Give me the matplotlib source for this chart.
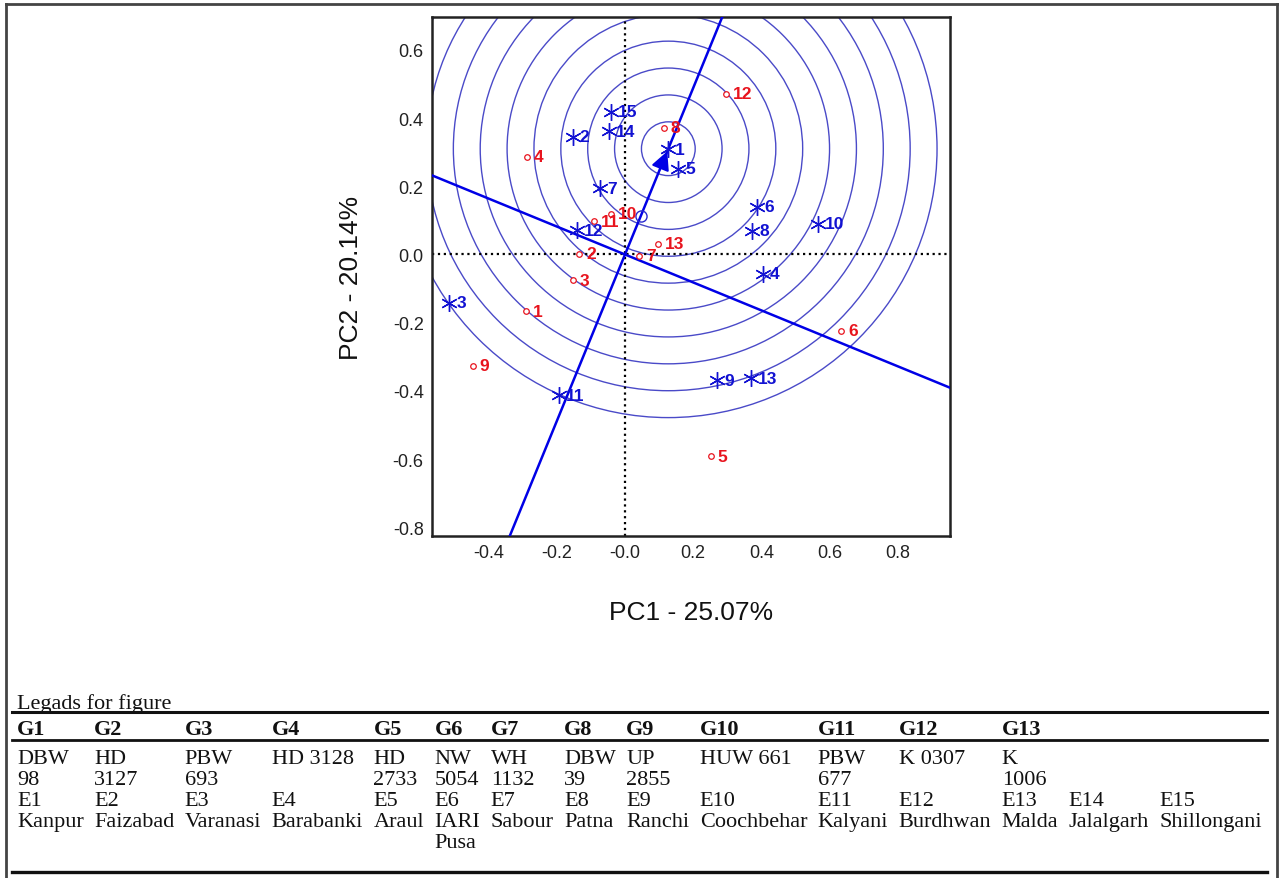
import numpy as np
import matplotlib.pyplot as plt
from matplotlib.lines import Line2D

# genotype scores (red circles)
gen_labels = [str(i) for i in range(1, 14)]
gen_pc1 = [-0.291, -0.134, -0.153, -0.288, 0.251, 0.634, 0.041, 0.114, -0.446, -0.040, -0.090, 0.295, 0.096]
gen_pc2 = [-0.167, 0.002, -0.076, 0.287, -0.591, -0.224, -0.003, 0.371, -0.326, 0.120, 0.098, 0.471, 0.031]

# environment scores (blue stars)
env_labels = [str(i) for i in range(1, 16)]
env_pc1 = [0.126, -0.153, -0.515, 0.405, 0.156, 0.387, -0.073, 0.373, 0.271, 0.566, -0.193, -0.140, 0.369, -0.046, -0.042]
env_pc2 = [0.309, 0.345, -0.142, -0.057, 0.252, 0.140, 0.194, 0.069, -0.368, 0.090, -0.412, 0.071, -0.363, 0.361, 0.418]

# average environment and ideal environment (centre of the rings)
avg_env = (0.047, 0.114)
ideal_env = (0.127, 0.310)
ring_step = 0.0788
n_rings = 10

xtick_vals = [-0.4, -0.2, 0.0, 0.2, 0.4, 0.6, 0.8]
xtick_text = ['-0.4', '-0.2', '-0.0', '0.2', '0.4', '0.6', '0.8']
ytick_vals = [-0.8, -0.6, -0.4, -0.2, 0.0, 0.2, 0.4, 0.6]
ytick_text = ['-0.8', '-0.6', '-0.4', '-0.2', '0.0', '0.2', '0.4', '0.6']

# legend table
tbl_title = 'Legads for figure'
tbl_head = ['G1', 'G2', 'G3', 'G4', 'G5', 'G6', 'G7', 'G8', 'G9', 'G10', 'G11', 'G12', 'G13']
tbl_var1 = ['DBW', 'HD', 'PBW', 'HD 3128', 'HD', 'NW', 'WH', 'DBW', 'UP', 'HUW 661', 'PBW', 'K 0307', 'K']
tbl_var2 = ['98', '3127', '693', '', '2733', '5054', '1132', '39', '2855', '', '677', '', '1006']
tbl_env = ['E%d' % i for i in range(1, 16)]
tbl_loc1 = ['Kanpur', 'Faizabad', 'Varanasi', 'Barabanki', 'Araul', 'IARI', 'Sabour', 'Patna', 'Ranchi',
            'Coochbehar', 'Kalyani', 'Burdhwan', 'Malda', 'Jalalgarh', 'Shillongani']
tbl_loc2 = ['', '', '', '', '', 'Pusa']

W, H = 1281, 879
BLUE = '#1212d2'
RED = '#e8141e'
SANS = 'Liberation Sans'
SERIF = 'Liberation Serif'


def fx(px):
    return px / W


def fy(py):
    return 1 - py / H


fig = plt.figure(figsize=(W / 100, H / 100), dpi=100)
ax = fig.add_axes([fx(432), fy(537), 518 / W, 519 / H])
xlim = (-0.566, 0.953)
ylim = (-0.825, 0.696)
ax.set_xlim(xlim)
ax.set_ylim(ylim)

# concentric rings around the ideal environment
for k in range(1, n_rings + 1):
    ax.add_patch(plt.Circle(ideal_env, k * ring_step, fill=False, color='#4a4ac8', lw=1.0, zorder=1))

# zero lines
ax.axhline(0, color='k', ls=':', lw=1.6, zorder=2)
ax.axvline(0, color='k', ls=':', lw=1.6, zorder=2)

# average environment axis and its perpendicular through the origin
slope = ideal_env[1] / ideal_env[0]
xs = np.array([-2.0, 2.0])
ax.plot(xs, slope * xs, color='#0000e6', lw=1.8, zorder=3)
ax.plot(xs, -xs / slope, color='#0000e6', lw=1.8, zorder=3)
ax.annotate('', xy=ideal_env, xytext=(ideal_env[0] * 0.78, ideal_env[1] * 0.78),
            arrowprops=dict(arrowstyle='-|>', color='#0000e6', lw=1.5, mutation_scale=28), zorder=4)
ax.plot(*avg_env, 'o', ms=8, mfc='none', mec='#2a2ad0', mew=1.0, zorder=4)

# points
ax.plot(gen_pc1, gen_pc2, 'o', ms=4, mfc='white', mec=RED, mew=0.9, ls='none', zorder=5)
ax.plot(env_pc1, env_pc2, marker=(6, 2, 0), ms=12, color=BLUE, mew=1.0, ls='none', zorder=5)
for x, y, s in zip(gen_pc1, gen_pc2, gen_labels):
    ax.annotate(s, (x, y), xytext=(5, 0), textcoords='offset points', ha='left', va='center',
                color=RED, fontsize=12.5, fontweight='bold', family=SANS, zorder=6)
for x, y, s in zip(env_pc1, env_pc2, env_labels):
    ax.annotate(s, (x, y), xytext=(5, 0), textcoords='offset points', ha='left', va='center',
                color=BLUE, fontsize=12.5, fontweight='bold', family=SANS, zorder=6)

ax.set_xticks(xtick_vals)
ax.set_xticklabels(xtick_text)
ax.set_yticks(ytick_vals)
ax.set_yticklabels(ytick_text)
ax.tick_params(length=0, labelsize=13, colors='#222222', pad=6)
for lab in ax.get_xticklabels() + ax.get_yticklabels():
    lab.set_family(SANS)
for sp in ax.spines.values():
    sp.set_linewidth(1.8)
    sp.set_color('#222222')
ax.set_xlabel('PC1 - 25.07%', fontsize=19, family=SANS, labelpad=28, color='#111111')
ax.set_ylabel('PC2 - 20.14%', fontsize=19, family=SANS, labelpad=21, color='#111111')

# page frame
fig.add_artist(Line2D([fx(6), fx(6)], [0, fy(5)], color='#444444', lw=2))
fig.add_artist(Line2D([fx(6), fx(1277)], [fy(5), fy(5)], color='#444444', lw=2))
fig.add_artist(Line2D([fx(1277), fx(1277)], [0, fy(5)], color='#444444', lw=2))

# legend table
fs = 16
fig.canvas.draw()
rend = fig.canvas.get_renderer()


def text_w(s, bold=False):
    t = fig.text(0, 0, s, fontsize=fs, family=SERIF, fontweight='bold' if bold else 'normal')
    w = t.get_window_extent(rend).width
    t.remove()
    return w


rows = [(tbl_head, True, 735), (tbl_var1, False, 764), (tbl_var2, False, 785),
        (tbl_env, False, 806), (tbl_loc1, False, 827), (tbl_loc2, False, 848)]
ncol = len(tbl_env)
widths = []
for c in range(ncol):
    widths.append(max(text_w(r[c], b) if c < len(r) else 0 for r, b, _ in rows))
left, right = 17, 1262
gap = (right - left - sum(widths)) / (ncol - 1)
col_x = [left + sum(widths[:c]) + gap * c for c in range(ncol)]

fig.text(fx(17), fy(709), tbl_title, fontsize=fs, family=SERIF, va='baseline', color='#111111')
for r, b, yb in rows:
    for c, s in enumerate(r):
        if s:
            fig.text(fx(col_x[c]), fy(yb), s, fontsize=fs, family=SERIF, va='baseline',
                     fontweight='bold' if b else 'normal', color='#111111')
for yl, lw in [(713, 2.2), (741, 2.0), (873, 2.4)]:
    fig.add_artist(Line2D([fx(12), fx(1267)], [fy(yl), fy(yl)], color='#111111', lw=lw))

fig.savefig('out.png', dpi=100)
